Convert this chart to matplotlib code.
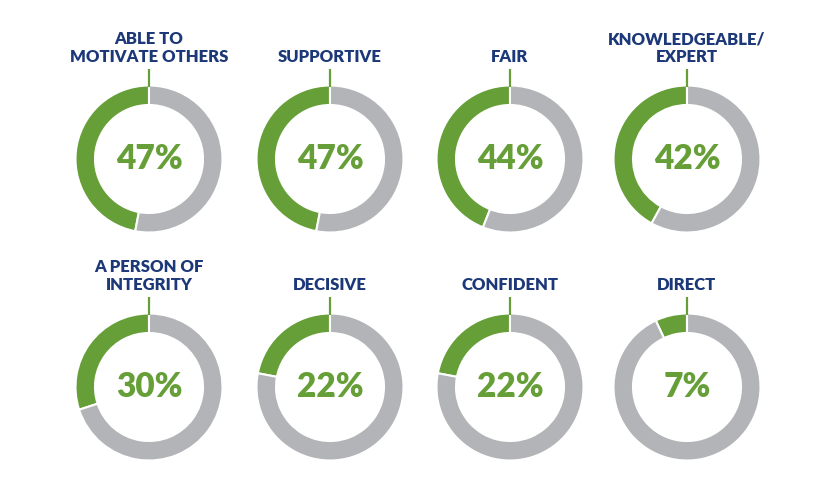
import matplotlib
matplotlib.use("Agg")
import matplotlib.pyplot as plt

# --- data ---
labels = [
    "ABLE TO\nMOTIVATE OTHERS", "SUPPORTIVE", "FAIR", "KNOWLEDGEABLE/\nEXPERT",
    "A PERSON OF\nINTEGRITY", "DECISIVE", "CONFIDENT", "DIRECT",
]
percents = [47, 47, 44, 42, 30, 22, 22, 7]

GREEN = "#669f37"
GRAY = "#b2b4b7"
BLUE = "#1c3878"

W, H = 835, 488
col_x = [149, 330, 510, 687]
row_y = [159, 387]   # pixel rows (from top)
R = 73.5
RING = 19.5

fig = plt.figure(figsize=(W / 100, H / 100), dpi=100)
ax = fig.add_axes([0, 0, 1, 1])

for i, (lab, p) in enumerate(zip(labels, percents)):
    cx = col_x[i % 4]
    cy = H - row_y[i // 4]
    ax.pie([p, 100 - p], colors=[GREEN, GRAY], startangle=90, counterclock=True,
           center=(cx, cy), radius=R,
           wedgeprops=dict(width=RING, edgecolor="white", linewidth=1.5))
    # small tick from title down to the ring
    ax.plot([cx, cx], [cy + R - 1, cy + R + 17], color=GREEN, lw=1.6,
            solid_capstyle="butt")
    ax.text(cx, cy, f"{p}%", ha="center", va="center", color=GREEN,
            fontsize=24, fontweight="heavy", family="Lato")
    ax.text(cx, cy + R + 21, lab, ha="center", va="bottom", color=BLUE,
            fontsize=12, fontweight="heavy", family="Lato", linespacing=1.1)

ax.set_xlim(0, W)
ax.set_ylim(0, H)
ax.set_aspect("equal")
ax.axis("off")

fig.savefig("out.png", dpi=100)
